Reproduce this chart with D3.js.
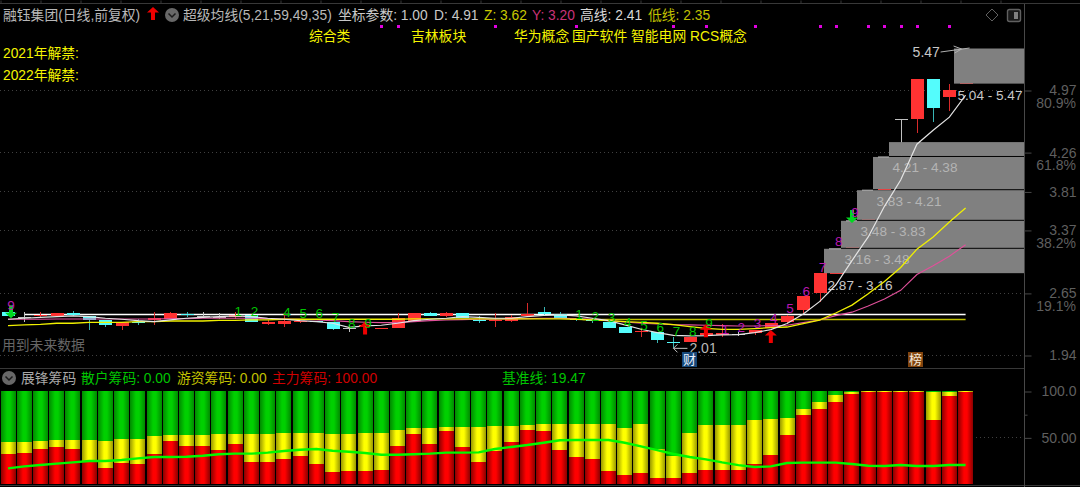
<!DOCTYPE html>
<html><head><meta charset="utf-8">
<script src="https://cdn.jsdelivr.net/npm/d3@7/dist/d3.min.js"></script>
<style>
html,body{margin:0;padding:0;background:#000;overflow:hidden}
text{font-family:"Liberation Sans","Noto Sans CJK SC",sans-serif}
</style></head><body><svg id="c" width="1080" height="487"></svg>
<script>
const opens=[2.436,2.379,2.387,2.387,2.417,2.387,2.341,2.272,2.322,2.341,2.352,2.410,2.387,2.379,2.379,2.398,2.295,2.295,2.322,2.333,2.322,2.245,2.272,2.234,2.245,2.333,2.417,2.387,2.417,2.341,2.326,2.333,2.383,2.429,2.410,2.360,2.341,2.322,2.265,2.200,2.207,2.093,2.093,2.173,2.169,2.181,2.196,2.245,2.322,2.455,2.65,2.87,3.16,3.48,3.83,4.64,4.64,5.10,4.895,5.04];
const closes=[2.387,2.379,2.398,2.417,2.398,2.341,2.284,2.314,2.303,2.360,2.417,2.394,2.387,2.379,2.394,2.322,2.322,2.333,2.333,2.314,2.242,2.245,2.284,2.245,2.368,2.417,2.387,2.417,2.368,2.329,2.341,2.379,2.410,2.410,2.360,2.341,2.329,2.253,2.188,2.219,2.112,2.081,2.150,2.188,2.188,2.181,2.226,2.303,2.387,2.62,2.88,3.14,3.46,3.81,4.19,4.64,5.10,4.76,4.97,5.45];
const highs=[2.436,2.436,2.436,2.425,2.448,2.387,2.341,2.314,2.349,2.436,2.436,2.436,2.436,2.425,2.436,2.398,2.341,2.398,2.333,2.333,2.322,2.284,2.303,2.253,2.417,2.417,2.436,2.436,2.417,2.387,2.417,2.398,2.532,2.486,2.436,2.360,2.360,2.322,2.265,2.245,2.207,2.150,2.150,2.200,2.291,2.200,2.226,2.303,2.40,2.62,2.88,3.14,3.46,3.81,4.19,4.64,5.10,5.10,5.04,5.45];
const lows=[2.387,2.322,2.360,2.387,2.387,2.226,2.265,2.226,2.284,2.284,2.352,2.379,2.360,2.349,2.349,2.322,2.284,2.265,2.303,2.314,2.226,2.207,2.257,2.234,2.245,2.333,2.387,2.379,2.368,2.310,2.257,2.322,2.383,2.398,2.360,2.333,2.303,2.245,2.188,2.150,2.074,2.016,2.093,2.150,2.150,2.160,2.169,2.245,2.30,2.42,2.55,2.89,3.18,3.50,3.85,4.21,4.48,4.60,4.73,5.06];
const maWhite=[2.349,2.360,2.371,2.379,2.387,2.379,2.360,2.349,2.333,2.322,2.341,2.360,2.371,2.379,2.387,2.379,2.360,2.349,2.333,2.322,2.303,2.257,2.272,2.280,2.303,2.333,2.349,2.360,2.379,2.371,2.360,2.360,2.379,2.394,2.398,2.387,2.360,2.333,2.284,2.234,2.196,2.165,2.158,2.161,2.169,2.173,2.196,2.23,2.30,2.41,2.55,2.74,3.02,3.29,3.64,3.94,4.35,4.51,4.66,4.91];
const maYellow=[2.276,2.284,2.291,2.303,2.303,2.314,2.314,2.314,2.322,2.322,2.329,2.329,2.329,2.337,2.337,2.341,2.341,2.349,2.349,2.349,2.349,2.349,2.349,2.349,2.349,2.352,2.352,2.352,2.352,2.352,2.352,2.352,2.352,2.352,2.352,2.349,2.341,2.333,2.322,2.314,2.303,2.287,2.265,2.245,2.234,2.234,2.242,2.253,2.26,2.30,2.34,2.42,2.51,2.64,2.78,2.94,3.15,3.29,3.46,3.62];
const maPink=[2.349,2.349,2.349,2.352,2.352,2.352,2.352,2.352,2.352,2.352,2.356,2.356,2.360,2.360,2.360,2.360,2.356,2.352,2.349,2.341,2.333,2.322,2.314,2.310,2.310,2.322,2.333,2.341,2.345,2.349,2.349,2.352,2.356,2.360,2.360,2.356,2.349,2.333,2.318,2.303,2.295,2.287,2.284,2.280,2.276,2.272,2.272,2.276,2.28,2.31,2.34,2.39,2.43,2.50,2.58,2.68,2.86,2.96,3.07,3.20];
const highLine=2.41, lowLine=2.35;
const blockLow=[2.87,3.16,3.48,3.83,4.21,5.04];
const blockHigh=[3.16,3.48,3.83,4.21,4.38,5.47];
const blockStart=[50.3,51.3,52.3,53.3,54.3,58.3];
const priceTicks=[4.97,4.26,3.81,3.37,2.65,1.94];
const fibPrices=[4.97,4.26,3.37,2.65];
const fibLabels=["80.9%","61.8%","38.2%","19.1%"];
const greenIdx=[14,15,17,18,19,20,21,22,35,36,37,38,39,40,41,42,43];
const greenTxt=[1,2,4,5,6,7,8,9,1,2,3,4,5,6,7,8,9];
const greenPrice=[2.448,2.448,2.436,2.417,2.417,2.379,2.310,2.303,2.410,2.387,2.371,2.322,2.284,2.257,2.215,2.219,2.303];
const magentaIdx=[0,44,45,46,47,48,49,50,51,52];
const magentaTxt=[9,1,2,3,4,5,6,7,8,9];
const magentaPrice=[2.51,2.234,2.257,2.303,2.360,2.474,2.676,2.943,3.244,3.58];
const upArrowIdx=[22,43,47];
const upArrowPrice=[2.322,2.291,2.226];
const downArrowIdx=[0,52];
const downArrowPrice=[2.360,3.45];
const dotIdx=[23,24,30,35,41,43,46,50,51,53,54,55,56,58];
const retailTop=[45.0,45.0,46.0,47.1,47.1,47.1,46.0,48.6,48.6,51.1,52.2,52.2,52.2,53.6,53.6,53.6,53.6,54.7,54.7,54.7,53.6,53.6,54.7,54.7,58.3,59.7,59.7,60.8,60.8,60.8,62.2,62.2,63.3,64.4,64.4,64.4,64.4,64.4,59.7,64.4,37.4,29.9,54.7,63.3,63.3,63.3,68.3,69.8,70.9,80.6,88.1,95.7,98.9,99.6,99.6,99.6,99.6,99.3,99.3,99.6];
const mainForce=[32.4,33.5,37.4,39.9,37.4,23.4,16.5,22.3,21.2,32.4,46.0,41.0,41.0,36.0,42.4,23.7,23.7,26.3,29.9,21.2,12.6,13.7,13.7,15.1,41.0,53.6,42.4,57.2,39.9,23.7,34.9,44.6,58.3,57.2,36.0,28.8,26.3,13.7,9.0,11.2,6.1,6.1,11.2,14.7,14.7,14.7,21.2,30.9,52.2,74.5,80.6,88.1,96.8,99.3,99.3,99.3,99.3,68.3,94.2,99.3];
const baseLine=[16.5,18.7,20.1,21.6,23.0,24.5,24.5,25.5,27.3,28.8,28.8,29.1,30.2,31.7,32.4,32.4,33.5,35.3,36.7,37.4,35.6,34.5,33.1,31.3,31.3,31.7,32.4,33.5,33.5,33.8,37.4,39.6,41.7,44.2,46.8,47.1,47.1,47.1,44.2,40.3,36.3,32.0,28.8,26.3,23.0,20.1,18.0,18.7,22.3,22.7,22.7,22.7,21.2,19.4,19.1,20.1,19.1,19.1,20.1,20.1];
const lowerTicks=[100,50];

const svg=d3.select("#c");
svg.append("rect").attr("width",1080).attr("height",487).attr("fill","#000");
const x=d3.scaleLinear().domain([0,59]).range([8,965.6]);
const y=d3.scaleLinear().domain([1.94,4.97,5.47]).range([355,90,48]);
const yl=d3.scaleLinear().domain([0,100]).range([483.7,391]);
const idx=d3.range(60);

const defs=svg.append("defs");
[["gG","#008a00","#00d000"],["gY","#9a9a00","#ffff00"],["gR","#8c0000","#ff0000"]].forEach(([id,e,c])=>{
  const g=defs.append("linearGradient").attr("id",id);
  g.append("stop").attr("offset","0").attr("stop-color",e);
  g.append("stop").attr("offset","0.4").attr("stop-color",c);
  g.append("stop").attr("offset","0.6").attr("stop-color",c);
  g.append("stop").attr("offset","1").attr("stop-color",e);
});

const frame=svg.append("g").attr("stroke","#383838").attr("fill","none");
frame.append("line").attr("x1",0).attr("x2",1080).attr("y1",3.5).attr("y2",3.5);
frame.append("line").attr("x1",0).attr("x2",1024).attr("y1",368.5).attr("y2",368.5);
frame.append("line").attr("x1",0).attr("x2",1080).attr("y1",485.5).attr("y2",485.5);
frame.append("line").attr("x1",1024.5).attr("x2",1024.5).attr("y1",4).attr("y2",487).attr("stroke","#484848");
const topAxis=d3.axisTop(d3.scaleLinear().domain([0,1024]).range([0,1024])).tickValues(d3.range(0,1024,40)).tickSize(3).tickFormat("");
svg.append("g").attr("transform","translate(0.5,3.5)").call(topAxis).call(g=>{g.select(".domain").remove();g.selectAll("line").attr("stroke","#383838");});

svg.append("g").selectAll("line").data(priceTicks).join("line")
 .attr("x1",0).attr("x2",1024).attr("y1",d=>Math.round(y(d))+.5).attr("y2",d=>Math.round(y(d))+.5)
 .attr("stroke","#404040").attr("stroke-dasharray","1 3");
svg.append("line").attr("x1",976).attr("x2",1024).attr("y1",437.5).attr("y2",437.5).attr("stroke","#404040").attr("stroke-dasharray","1 3");

const styleAxis=g=>{g.select(".domain").remove();g.selectAll("line").attr("stroke","#484848");
 g.selectAll("text").attr("fill","#5f5f5f").attr("font-size",14).attr("text-anchor","end").attr("x",52);};
svg.append("g").attr("transform","translate(1024.5,0.5)").call(d3.axisRight(y).tickValues(priceTicks).tickFormat(d3.format(".2f")).tickSize(7)).call(styleAxis);
svg.append("g").attr("transform","translate(1024.5,0.5)").call(d3.axisRight(yl).tickValues(lowerTicks).tickFormat(d=>d==100?"100.0":"50.00").tickSize(7)).call(styleAxis);
svg.append("g").attr("transform","translate(1024.5,0.5)").call(d3.axisRight(yl).tickValues([75]).tickFormat("").tickSize(3)).call(g=>{g.select(".domain").remove();g.selectAll("line").attr("stroke","#484848");});
svg.append("g").selectAll("text").data(fibPrices).join("text")
 .attr("x",1076).attr("y",d=>y(d)+18).attr("text-anchor","end").attr("fill","#5f5f5f").attr("font-size",14)
 .text((d,i)=>fibLabels[i]);

svg.append("line").attr("x1",x(1)).attr("x2",x(59)).attr("y1",Math.round(y(highLine))+.5).attr("y2",Math.round(y(highLine))+.5).attr("stroke","#ffffff").attr("stroke-width",1.5);
svg.append("line").attr("x1",x(35.4)).attr("x2",x(59)).attr("y1",Math.round(y(lowLine))+.5).attr("y2",Math.round(y(lowLine))+.5).attr("stroke","#c0c000").attr("stroke-width",1.5);

const cG=svg.append("g").attr("shape-rendering","crispEdges");
const up=i=>closes[i]>opens[i], flat=i=>closes[i]===opens[i];
cG.selectAll("line").data(idx).join("line")
 .attr("x1",i=>Math.round(x(i))+.5).attr("x2",i=>Math.round(x(i))+.5)
 .attr("y1",i=>y(highs[i])).attr("y2",i=>y(lows[i]))
 .attr("stroke",i=>flat(i)?"#c0c0c0":up(i)?"#d82a2a":"#38b4b4");
cG.selectAll("rect").data(idx).join("rect")
 .attr("x",i=>Math.round(x(i))-6).attr("width",13)
 .attr("y",i=>y(Math.max(opens[i],closes[i])))
 .attr("height",i=>Math.max(1,Math.abs(y(opens[i])-y(closes[i]))))
 .attr("fill",i=>flat(i)?"#c0c0c0":up(i)?"#ff3232":"#54fcfc");

const bG=svg.append("g");
bG.selectAll("rect").data(blockLow).join("rect")
 .attr("x",(d,i)=>Math.round(x(blockStart[i]))).attr("width",(d,i)=>1024-Math.round(x(blockStart[i])))
 .attr("y",(d,i)=>y(blockHigh[i])+.5).attr("height",(d,i)=>y(d)-y(blockHigh[i])-1)
 .attr("fill","#808080");
bG.selectAll("line").data(blockLow.slice(0,4)).join("line")
 .attr("x1",(d,i)=>Math.round(x(blockStart[i]))+5).attr("x2",(d,i)=>Math.round(x(blockStart[i+1])))
 .attr("y1",(d,i)=>y(blockHigh[i])+.5).attr("y2",(d,i)=>y(blockHigh[i])+.5)
 .attr("stroke","#b8b8b8");
bG.selectAll("text").data(blockLow).join("text")
 .attr("x",(d,i)=>Math.round(x(blockStart[i]))+3.5).attr("y",d=>y(d)+16)
 .attr("fill",(d,i)=>i==0||i==5?"#c8c8c8":"#b4b4b4").attr("font-size",13.6)
 .text((d,i)=>d3.format(".2f")(d)+" - "+d3.format(".2f")(blockHigh[i]));

const ln=d3.line().x((d,i)=>x(i)).y(d=>y(d));
[[maPink,"#e0509a",1.1],[maYellow,"#f0f000",1.3],[maWhite,"#e4e4e4",1.2]].forEach(([a,c,w])=>{
 svg.append("path").attr("d",ln(a)).attr("fill","none").attr("stroke",c).attr("stroke-width",w);
});

const arrowPath=(cx,tip,dir)=>{const p=d3.path(),h=dir*5.5,l=dir*13;
 p.moveTo(cx,tip);p.lineTo(cx+6,tip+h);p.lineTo(cx+2,tip+h);p.lineTo(cx+2,tip+l);p.lineTo(cx-2,tip+l);p.lineTo(cx-2,tip+h);p.lineTo(cx-6,tip+h);p.closePath();return p.toString();};
svg.append("g").selectAll("path").data(upArrowIdx).join("path").attr("d",(d,i)=>arrowPath(x(d),y(upArrowPrice[i]),1)).attr("fill","#f00000");
svg.append("g").selectAll("path").data(downArrowIdx).join("path").attr("d",(d,i)=>arrowPath(x(d)+(i==0?3:0),y(downArrowPrice[i]),-1)).attr("fill","#00d820");

const seq=(ix,tx,pr,col)=>svg.append("g").selectAll("text").data(ix).join("text")
 .attr("x",d=>x(d)+3).attr("y",(d,i)=>y(pr[i])+5).attr("text-anchor","middle").attr("font-size",13.5).attr("fill",col).text((d,i)=>tx[i]);
seq(greenIdx,greenTxt,greenPrice,"#00c400");
seq(magentaIdx,magentaTxt,magentaPrice,"#b818b0");

const hx=x(59), hy=y(5.47);
svg.append("text").attr("x",hx-53).attr("y",hy+9).attr("fill","#c8c8c8").attr("font-size",14).text("5.47");
svg.append("path").attr("d",`M${hx-25},${hy+4}L${hx+4},${hy}M${hx-12},${hy-2}L${hx-4},${hy+1}L${hx-11},${hy+5}`).attr("fill","none").attr("stroke","#b0b0b0");
const lx=x(41), ly=y(2.016);
svg.append("path").attr("d",`M${lx},${ly}L${lx+14},${ly}M${lx+4},${ly-4}L${lx},${ly}L${lx+4},${ly+4}`).attr("fill","none").attr("stroke","#c0c0c0");
svg.append("text").attr("x",lx+16).attr("y",ly+5).attr("fill","#b8b8b8").attr("font-size",14).text("2.01");
svg.append("rect").attr("x",x(41)+8.5).attr("y",352).attr("width",15).attr("height",15).attr("fill","#17497a");
svg.append("text").attr("x",x(41)+16).attr("y",364).attr("text-anchor","middle").attr("fill","#e8f0ff").attr("font-size",13).text("财");
svg.append("rect").attr("x",908).attr("y",352).attr("width",15).attr("height",15).attr("fill","#80440f");
svg.append("text").attr("x",915.5).attr("y",364).attr("text-anchor","middle").attr("fill","#f4e8d8").attr("font-size",13).text("榜");

svg.append("g").selectAll("rect").data(dotIdx).join("rect")
 .attr("x",d=>Math.round(x(d))-1).attr("y",25).attr("width",3).attr("height",3).attr("fill","#e000e0");

const T=(tx,xx,yy,col,fs)=>svg.append("text").attr("x",xx).attr("y",yy).attr("fill",col).attr("font-size",fs||13.8).text(tx);
T("融钰集团(日线,前复权)",3,20,"#b8b8b8");
svg.append("path").attr("d",arrowPath(153,7,1)).attr("fill","#f00000");
const chev=(cx,cy)=>{svg.append("circle").attr("cx",cx).attr("cy",cy).attr("r",7).attr("fill","#686868");
 svg.append("path").attr("d",`M${cx-3.5},${cy-1.5}L${cx},${cy+2}L${cx+3.5},${cy-1.5}`).attr("fill","none").attr("stroke","#1a1a1a").attr("stroke-width",1.5);};
chev(172,15);
T("超级均线(5,21,59,49,35)",183,20,"#b8b8b8");
T("坐标参数: 1.00",338,20,"#c8c8c8");
T("D: 4.91",434,20,"#c8c8c8");
T("Z: 3.62",484,20,"#c8c800");
T("Y: 3.20",532,20,"#c83278");
T("高线: 2.41",580,20,"#d8d8d8");
T("低线: 2.35",648,20,"#c0c000");
[["综合类",309],["吉林板块",411],["华为概念",514],["国产软件",572],["智能电网",631],["RCS概念",690]].forEach(([t,xx])=>T(t,xx,41,"#f4f400"));
T("2021年解禁:",3,58,"#f4f400");
T("2022年解禁:",3,80,"#f4f400");
T("用到未来数据",2,350,"#666666");
chev(9,378);
T("展锋筹码",21,383,"#a8a8a8");
T("散户筹码: 0.00",81,383,"#00c400");
T("游资筹码: 0.00",177,383,"#c0c000");
T("主力筹码: 100.00",272,383,"#d00000");
T("基准线: 19.47",502,383,"#00c400");

svg.append("path").attr("d","M992,9L998,15L992,21L986,15Z").attr("fill","none").attr("stroke","#606060");
svg.append("rect").attr("x",1007.5).attr("y",9.5).attr("width",13).attr("height",12).attr("rx",2).attr("fill","#1a1a1a").attr("stroke","#606060").attr("stroke-width",1.4);
svg.append("rect").attr("x",1014).attr("y",12).attr("width",4).attr("height",7).attr("fill","#808080");

const lG=svg.append("g").attr("shape-rendering","crispEdges");
const bx=i=>Math.round(x(i)-7.5);
lG.selectAll(".g").data(idx).join("rect").attr("class","g").attr("x",bx).attr("width",15).attr("y",yl(100)).attr("height",yl(0)-yl(100)).attr("fill","url(#gG)");
lG.selectAll(".y").data(idx).join("rect").attr("class","y").attr("x",bx).attr("width",15).attr("y",i=>yl(retailTop[i])).attr("height",i=>yl(0)-yl(retailTop[i])).attr("fill","url(#gY)");
lG.selectAll(".r").data(idx).join("rect").attr("class","r").attr("x",bx).attr("width",15).attr("y",i=>yl(mainForce[i])).attr("height",i=>yl(0)-yl(mainForce[i])).attr("fill","url(#gR)");
svg.append("path").attr("d",d3.line().x((d,i)=>x(i)).y(d=>yl(d))(baseLine)).attr("fill","none").attr("stroke","#00f800").attr("stroke-width",2.4);
</script></body></html>
